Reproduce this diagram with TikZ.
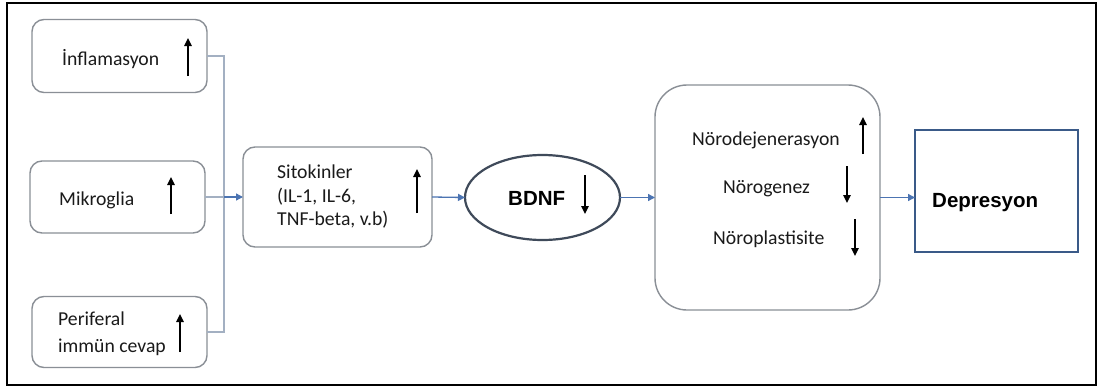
\documentclass[tikz,border=0pt]{standalone}
\usepackage{fontspec}
\setmainfont{Carlito}
\newfontfamily\boldsans{Liberation Sans}
\usetikzlibrary{arrows.meta,shapes.geometric}
\definecolor{boxgray}{HTML}{8A8F96}
\definecolor{ellcol}{HTML}{3F4A5A}
\definecolor{depcol}{HTML}{3A5A88}
\definecolor{conngray}{HTML}{A3B0C2}
\definecolor{connblue}{HTML}{4C74B2}
\definecolor{txt}{HTML}{1A1A1A}
\begin{document}
\begin{tikzpicture}[x=1pt,y=-1pt,
  rbox/.style={draw=boxgray,line width=1.4pt,rounded corners=12pt,inner sep=0pt,outer sep=0pt},
  lbl/.style={anchor=base west,inner sep=0pt,text=txt,font=\fontsize{19.7}{23.5}\selectfont},
  blbl/.style={anchor=base west,inner sep=0pt,text=black,font=\boldsans\bfseries\fontsize{20.5}{24}\selectfont},
  updown/.style={black,line width=1.5pt,-{Triangle[length=8pt,width=7.5pt]}},
  conn/.style={conngray,line width=1.5pt},
  barr/.style={connblue,line width=1.3pt,-{Triangle[length=7pt,width=7pt]}}]
\useasboundingbox (0,0) rectangle (1101,388);
\fill[white] (0,0) rectangle (1101,388);
% outer frame
\draw[black,line width=2pt] (7,3) rectangle (1096,385);
% boxes
\node[rbox,minimum width=175pt,minimum height=73pt] (infl) at (119.5,56) {};
\node[rbox,minimum width=175pt,minimum height=72pt] (mikro) at (117.5,197) {};
\node[rbox,minimum width=175pt,minimum height=71pt] (peri) at (119.5,332) {};
\node[rbox,minimum width=189pt,minimum height=100pt] (sito) at (337.5,197) {};
\node[draw=ellcol,line width=2.2pt,ellipse,minimum width=155pt,minimum height=85pt,inner sep=0pt,outer sep=0pt] (bdnf) at (542.5,197.5) {};
\node[rbox,rounded corners=32pt,minimum width=225pt,minimum height=225pt] (big) at (767.5,197.5) {};
\node[draw=depcol,line width=2.4pt,minimum width=163pt,minimum height=122pt,inner sep=0pt,outer sep=0pt] (dep) at (996.5,191) {};
% texts
\node[lbl] (t1) at (62,65) {İnflamasyon};
\node[lbl] (t2) at (59,205) {Mikroglia};
\node[lbl] (t3) at (58,325) {Periferal};
\node[lbl] (t4) at (58,352) {immün cevap};
\node[lbl] (t5) at (277,178) {Sitokinler};
\node[lbl] (t6) at (277,202) {(IL-1, IL-6,};
\node[lbl] (t7) at (277,225) {TNF-beta, v.b)};
\node[blbl] (t8) at (508,205) {BDNF};
\node[lbl] (t9) at (692,145) {Nörodejenerasyon};
\node[lbl] (t10) at (723,193) {Nörogenez};
\node[lbl] (t11) at (713,244) {Nöroplastisite};
\node[blbl] (t12) at (932,207) {Depresyon};
% small up/down arrows
\coordinate (a1s) at (188,76); \coordinate (a1e) at (188,38);
\coordinate (a2s) at (171,214); \coordinate (a2e) at (171,177);
\coordinate (a3s) at (180,352); \coordinate (a3e) at (180,314);
\coordinate (a4s) at (417,213); \coordinate (a4e) at (417,169);
\coordinate (a5s) at (585,175); \coordinate (a5e) at (585,214);
\coordinate (a6s) at (863,154); \coordinate (a6e) at (863,117);
\coordinate (a7s) at (847,166); \coordinate (a7e) at (847,203);
\coordinate (a8s) at (855,219); \coordinate (a8e) at (855,256);
\foreach \i in {1,...,8} {\draw[updown] (a\i s) -- (a\i e);}
% connectors
\coordinate (junc) at (224,197);
\draw[conn] (infl.east) -| (junc);
\draw[conn] (peri.east) -| (junc);
\draw[conn] (mikro.east) -- (junc);
\draw[barr] (junc) -- (sito.west);
\draw[barr] (sito.east) -- (bdnf.west);
\draw[barr] (bdnf.east) -- (big.west);
\draw[barr] (big.east) -- (big.east -| dep.west);
\end{tikzpicture}
\end{document}
